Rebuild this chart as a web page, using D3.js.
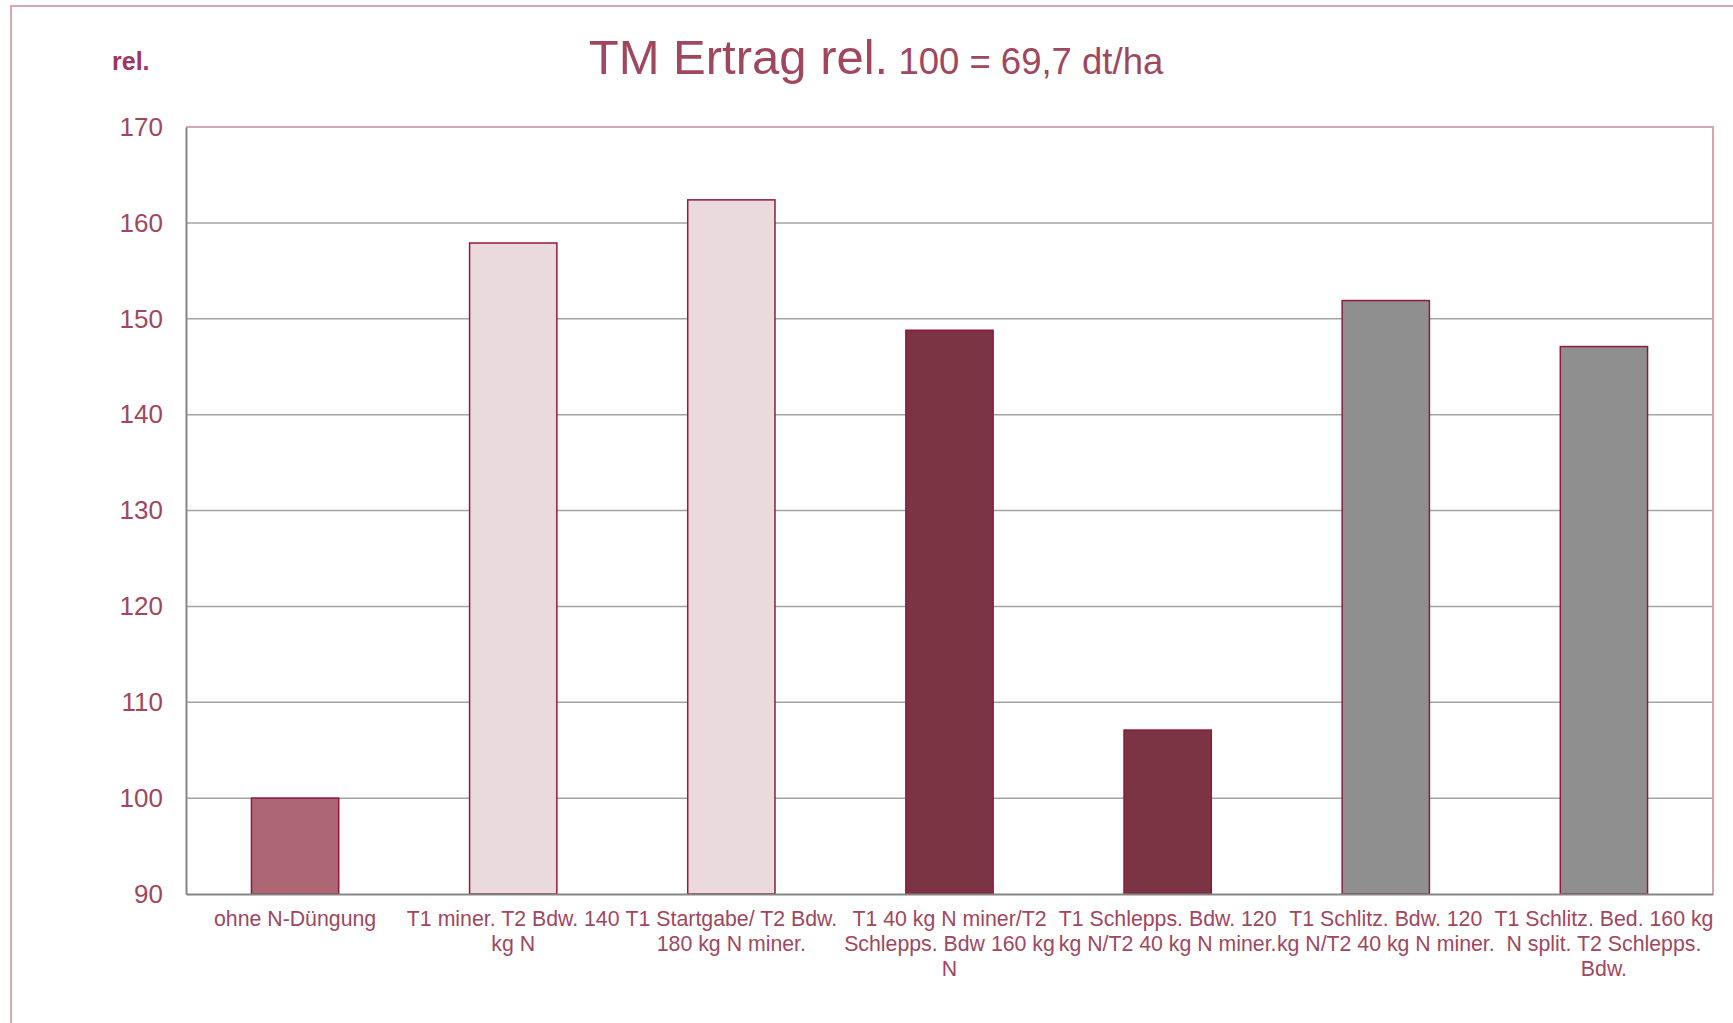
<html>
  <head>
    <meta charset="utf-8">
    <style>
      body { margin:0; background:#fff; }
      text {
        font-family: "Liberation Sans", Arial, Helvetica, sans-serif;
        fill: #a0475e;
      }
      .grid line { stroke:#a3a3a3; stroke-width:1.5px; }
      .bars rect { stroke:#8e1b3d; stroke-width:1.5px; }
    </style>
    <script src="https://d3js.org/d3.v7.min.js" charset="utf-8"></script>
  </head>
  <body>
    <script>
      // data
      const categories = [
        ['ohne N-Düngung'],
        ['T1 miner. T2 Bdw. 140', 'kg N'],
        ['T1 Startgabe/ T2 Bdw.', '180 kg N miner.'],
        ['T1 40 kg N miner/T2', 'Schlepps. Bdw 160 kg', 'N'],
        ['T1 Schlepps. Bdw. 120', 'kg N/T2 40 kg N miner.'],
        ['T1 Schlitz. Bdw. 120', 'kg N/T2 40 kg N miner.'],
        ['T1 Schlitz. Bed. 160 kg', 'N split. T2 Schlepps.', 'Bdw.']
      ]
      const values = [100, 157.9, 162.4, 148.8, 107.1, 151.9, 147.1]
      const barColors = ['#ad6673', '#ead9dd', '#ead9dd', '#7a3444', '#7a3444', '#8f8f8f', '#8f8f8f']
      const yTicks = [90, 100, 110, 120, 130, 140, 150, 160, 170]

      const W = 1733, H = 1023
      const plot = {left:186, top:127, right:1713, bottom:894}

      const svg = d3.select('body').append('svg')
        .attr('width', W).attr('height', H)

      // outer frame
      svg.append('rect')
        .attr('x', 11).attr('y', 6)
        .attr('width', W + 20).attr('height', H + 20)
        .attr('fill', 'none').attr('stroke', '#d5a7b1').attr('stroke-width', 2)

      const ids = categories.map((c, i) => i)
      const x = d3.scaleBand().domain(ids).range([plot.left, plot.right])
        .paddingInner(0.6).paddingOuter(0.3)
      const y = d3.scaleLinear().domain([90, 170]).range([plot.bottom, plot.top])

      // gridlines
      svg.append('g').classed('grid', true)
        .selectAll('line').data(yTicks.slice(1, -1)).enter().append('line')
        .attr('x1', plot.left).attr('x2', plot.right)
        .attr('y1', d => y(d)).attr('y2', d => y(d))

      // top / right border of plot
      svg.append('path')
        .attr('d', `M${plot.left},${plot.top}H${plot.right}V${plot.bottom}`)
        .attr('fill', 'none').attr('stroke', '#d5a7b1').attr('stroke-width', 2)

      // bars
      svg.append('g').classed('bars', true)
        .selectAll('rect').data(values).enter().append('rect')
        .attr('x', (d, i) => x(i))
        .attr('width', x.bandwidth())
        .attr('y', d => y(d))
        .attr('height', d => y(90) - y(d))
        .attr('fill', (d, i) => barColors[i])

      // y axis
      const yAxis = svg.append('g')
        .attr('transform', `translate(${plot.left},0)`)
        .call(d3.axisLeft(y).tickValues(yTicks).tickSize(0).tickPadding(23))
      yAxis.select('.domain').attr('stroke', '#858585').attr('stroke-width', 2)
      yAxis.selectAll('text')
        .style('font-size', '26px').attr('fill', '#a0475e')

      // x axis
      const xAxis = svg.append('g')
        .attr('transform', `translate(0,${plot.bottom})`)
        .call(d3.axisBottom(x).tickSize(0).tickFormat(''))
      xAxis.select('.domain').attr('stroke', '#858585').attr('stroke-width', 2)

      const labels = svg.append('g')
        .selectAll('text').data(categories).enter().append('text')
        .attr('text-anchor', 'middle')
        .style('font-size', '21.3px')
        .attr('x', (d, i) => x(i) + x.bandwidth() / 2)
        .attr('y', plot.bottom + 32)
      labels.selectAll('tspan').data(d => d).enter().append('tspan')
        .attr('x', function(){ return this.parentNode.getAttribute('x') })
        .attr('dy', (d, i) => i ? 25 : 0)
        .text(d => d)

      // titles
      svg.append('text')
        .attr('x', 112).attr('y', 70)
        .style('font-size', '25px').style('font-weight', 'bold')
        .style('fill', '#9b3563')
        .text('rel.')

      const title = svg.append('text')
        .attr('x', 876).attr('y', 74)
        .attr('text-anchor', 'middle')
      title.append('tspan').style('font-size', '49px').text('TM Ertrag rel.')
      title.append('tspan').style('font-size', '36.5px').text(' 100 = 69,7 dt/ha')
    </script>
  </body>
</html>
